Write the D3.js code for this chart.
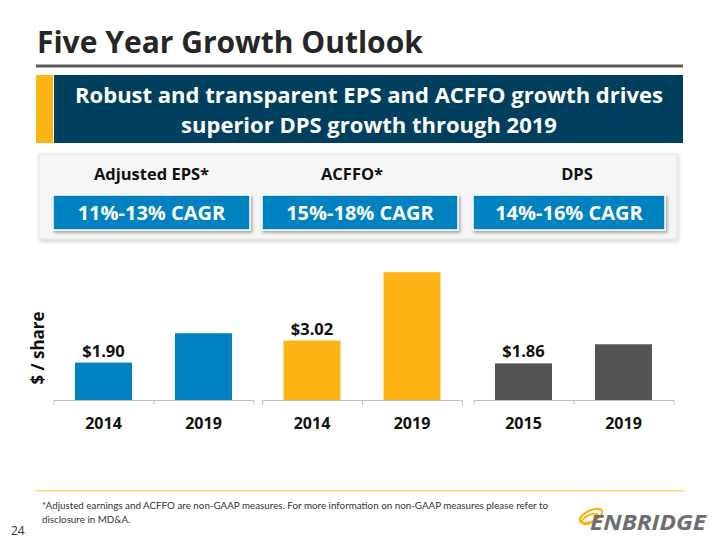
<!DOCTYPE html>
<html>
<head>
<meta charset="utf-8">
<script src="https://cdn.jsdelivr.net/npm/d3@7"></script>
<style>
  html, body { margin: 0; padding: 0; background: #ffffff; }
  svg { display: block; font-family: "Open Sans", Lato, sans-serif; }
</style>
</head>
<body>
<svg id="chart" width="720" height="540"></svg>
<script>
// ---- data ----
const title = "Five Year Growth Outlook";
const bannerLines = ["Robust and transparent EPS and ACFFO growth drives", "superior DPS growth through 2019"];
const metricNames = ["Adjusted EPS*", "ACFFO*", "DPS"];
const cagrLabels = ["11%-13% CAGR", "15%-18% CAGR", "14%-16% CAGR"];
const epsYears = ["2014", "2019"];
const epsValues = [1.90, 3.39];
const epsLabels = ["$1.90", ""];
const acffoYears = ["2014", "2019"];
const acffoValues = [3.02, 6.49];
const acffoLabels = ["$3.02", ""];
const dpsYears = ["2015", "2019"];
const dpsValues = [1.86, 2.83];
const dpsLabels = ["$1.86", ""];
const yAxisTitle = "$ / share";
const footnoteLines = ["*Adjusted earnings and ACFFO are non-GAAP measures. For more information on non-GAAP measures please refer to", "disclosure in MD&A."];
const pageNumber = "24";

// ---- styles ----
const BLUE = "#0082c0", GOLD = "#fdb515", DARK = "#545454", NAVY = "#003f5e";
const svg = d3.select("#chart");

const defs = svg.append("defs");
const sh = defs.append("filter").attr("id", "shadow").attr("x", "-10%").attr("y", "-20%").attr("width", "125%").attr("height", "160%");
sh.append("feDropShadow").attr("dx", 1.5).attr("dy", 2).attr("stdDeviation", 1.5).attr("flood-color", "#000").attr("flood-opacity", 0.35);
const sh2 = defs.append("filter").attr("id", "panelShadow").attr("x", "-5%").attr("y", "-10%").attr("width", "110%").attr("height", "130%");
sh2.append("feDropShadow").attr("dx", 1).attr("dy", 2).attr("stdDeviation", 2).attr("flood-color", "#000").attr("flood-opacity", 0.18);

// ---- title ----
svg.append("text").attr("x", 37).attr("y", 53)
  .attr("font-size", 30).attr("font-weight", 700).attr("fill", "#262626")
  .text(title);
svg.append("rect").attr("x", 36).attr("y", 64.5).attr("width", 647).attr("height", 3).attr("fill", "#5a5a5a");

// ---- banner ----
svg.append("rect").attr("x", 36).attr("y", 75).attr("width", 17).attr("height", 68).attr("fill", GOLD);
svg.append("rect").attr("x", 54).attr("y", 75).attr("width", 629).attr("height", 68).attr("fill", NAVY);
svg.append("g").selectAll("text").data(bannerLines).join("text")
  .attr("x", 369).attr("y", (d, i) => 103 + i * 30)
  .attr("text-anchor", "middle").attr("font-size", 22).attr("font-weight", 700).attr("fill", "#ffffff")
  .text(d => d);

// ---- KPI panel ----
svg.append("rect").attr("x", 39).attr("y", 154).attr("width", 638).attr("height", 85)
  .attr("fill", "#f6f6f6").attr("stroke", "#e2e2e2").attr("stroke-width", 1).attr("filter", "url(#panelShadow)");
const kpiX = [53, 262, 473];
const kpiW = [197, 196, 192];
const kpi = svg.append("g").selectAll("g").data(metricNames).join("g");
kpi.append("text")
  .attr("x", (d, i) => kpiX[i] + kpiW[i] / 2 + [0, -8, 8][i]).attr("y", 180)
  .attr("text-anchor", "middle").attr("font-size", 16.5).attr("font-weight", 700).attr("fill", "#111")
  .text(d => d);
kpi.append("rect")
  .attr("x", (d, i) => kpiX[i]).attr("y", 195).attr("width", (d, i) => kpiW[i]).attr("height", 35)
  .attr("fill", BLUE).attr("stroke", "#ffffff").attr("stroke-width", 1.5).attr("filter", "url(#shadow)");
kpi.append("text")
  .attr("x", (d, i) => kpiX[i] + kpiW[i] / 2).attr("y", 220)
  .attr("text-anchor", "middle").attr("font-size", 20).attr("font-weight", 700).attr("fill", "#ffffff")
  .text((d, i) => cagrLabels[i]);

// ---- bar chart ----
const y = d3.scaleLinear().domain([0, 6.5]).range([400, 272]);
const groups = [
  { years: epsYears, values: epsValues, labels: epsLabels, color: BLUE, range: [53.5, 253.5] },
  { years: acffoYears, values: acffoValues, labels: acffoLabels, color: GOLD, range: [262, 462] },
  { years: dpsYears, values: dpsValues, labels: dpsLabels, color: DARK, range: [473.5, 673.5] }
];

groups.forEach(g => {
  const x = d3.scaleBand().domain(g.years.map((d, i) => i)).range(g.range).paddingInner(0.43).paddingOuter(0.215);
  const tickScale = d3.scaleLinear().domain([0, g.years.length]).range(g.range);
  const gg = svg.append("g");
  const data = g.values.map((v, i) => ({ v, i, year: g.years[i], label: g.labels[i] }));

  gg.selectAll("rect.bar").data(data).join("rect").attr("class", "bar")
    .attr("x", d => x(d.i)).attr("width", x.bandwidth())
    .attr("y", d => y(d.v)).attr("height", d => y(0) - y(d.v))
    .attr("fill", g.color);

  gg.selectAll("text.val").data(data.filter(d => d.label)).join("text").attr("class", "val")
    .attr("x", d => x(d.i) + x.bandwidth() / 2).attr("y", d => y(d.v) - 6)
    .attr("text-anchor", "middle").attr("font-size", 16.5).attr("font-weight", 700).attr("fill", "#111")
    .text(d => d.label);

  const axis = d3.axisBottom(tickScale).tickValues(d3.range(g.years.length + 1)).tickSize(5).tickSizeOuter(0).tickFormat("");
  const ax = gg.append("g").attr("transform", `translate(0,${y(0)})`).call(axis);
  ax.selectAll("path, line").attr("stroke", "#bfbfbf").attr("stroke-width", 1);

  gg.selectAll("text.cat").data(data).join("text").attr("class", "cat")
    .attr("x", d => x(d.i) + x.bandwidth() / 2).attr("y", 429)
    .attr("text-anchor", "middle").attr("font-size", 16).attr("font-weight", 700).attr("fill", "#111")
    .text(d => d.year);
});

svg.append("text")
  .attr("transform", "translate(44,348) rotate(-90)")
  .attr("text-anchor", "middle").attr("font-size", 17).attr("font-weight", 700).attr("fill", "#111")
  .text(yAxisTitle);

// ---- footer ----
svg.append("rect").attr("x", 36).attr("y", 490).attr("width", 648).attr("height", 1.5).attr("fill", "#fcd46c");
svg.append("g").selectAll("text").data(footnoteLines).join("text")
  .attr("x", 42).attr("y", (d, i) => 509 + i * 13.5)
  .attr("font-family", "Lato, sans-serif")
  .attr("font-size", 9.8).attr("fill", "#333")
  .text(d => d);
svg.append("text").attr("x", 11).attr("y", 535).attr("font-size", 12).attr("fill", "#333").text(pageNumber);

// logo
const logo = svg.append("g");
logo.append("ellipse").attr("cx", 591).attr("cy", 516).attr("rx", 12).attr("ry", 5.5)
  .attr("transform", "rotate(-25,591,516)").attr("fill", "none").attr("stroke", GOLD).attr("stroke-width", 2.2);
logo.append("ellipse").attr("cx", 590).attr("cy", 519).attr("rx", 9).attr("ry", 4)
  .attr("transform", "rotate(-25,590,519)").attr("fill", "none").attr("stroke", GOLD).attr("stroke-width", 1.8);
logo.append("text").attr("x", 590).attr("y", 530).attr("font-size", 22).attr("font-weight", 700)
  .attr("font-style", "italic").attr("fill", "#6d6e71").attr("textLength", 116).attr("lengthAdjust", "spacingAndGlyphs")
  .text("ENBRIDGE");
</script>
</body>
</html>
